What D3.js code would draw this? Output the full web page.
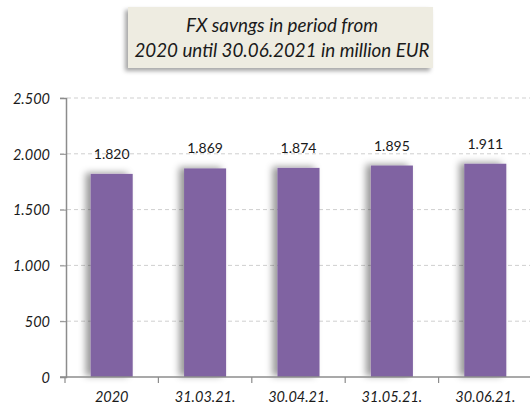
<!DOCTYPE html>
<html><head><meta charset="utf-8">
<script src="https://cdn.jsdelivr.net/npm/d3@7"></script>
<style>body{margin:0;background:#fff}svg{display:block}</style>
</head><body>
<svg id="c" width="530" height="407"></svg>
<script>
const categories = ["2020","31.03.21.","30.04.21.","31.05.21.","30.06.21."];
const values = [1820,1869,1874,1895,1911];
const valueLabels = ["1.820","1.869","1.874","1.895","1.911"];
const yTicks = [0,500,1000,1500,2000,2500];
const yTickLabels = ["0","500","1.000","1.500","2.000","2.500"];
const titleLines = ["FX savngs in period from","2020 until 30.06.2021 in million EUR"];

const svg = d3.select("#c");
const font = "Lato, 'Open Sans', sans-serif";
const defs = svg.append("defs");
const f = defs.append("filter").attr("id","sh").attr("x","-40%").attr("y","-10%").attr("width","180%").attr("height","120%");
f.append("feDropShadow").attr("dx",-5).attr("dy",-1).attr("stdDeviation",3.5).attr("flood-color","#000").attr("flood-opacity",0.4);
const f2 = defs.append("filter").attr("id","tsh").attr("x","-10%").attr("y","-20%").attr("width","120%").attr("height","150%");
f2.append("feDropShadow").attr("dx",-3).attr("dy",3).attr("stdDeviation",2).attr("flood-color","#000").attr("flood-opacity",0.35);

// title box
svg.append("rect").attr("x",128).attr("y",7).attr("width",305).attr("height",61)
  .attr("fill","#EEECE1").attr("filter","url(#tsh)");
svg.selectAll("text.title").data(titleLines).join("text").attr("class","title")
  .attr("x",282).attr("y",(d,i)=>32+i*25).attr("text-anchor","middle")
  .attr("font-family",font).attr("font-style","italic").attr("font-size",18.8).attr("fill","#1a1a1a")
  .text(d=>d);

const x = d3.scaleBand().domain(categories).range([65,532]).paddingInner(0.55).paddingOuter(0.275);
const y = d3.scaleLinear().domain([0,2500]).range([377,98]);

// gridlines
svg.selectAll("line.grid").data(yTicks.slice(1)).join("line").attr("class","grid")
  .attr("x1",60).attr("x2",530).attr("y1",d=>y(d)).attr("y2",d=>y(d))
  .attr("stroke","#cfcfcf").attr("stroke-dasharray","4,3").attr("stroke-width",1);

// bars
svg.selectAll("rect.bar").data(values).join("rect").attr("class","bar")
  .attr("x",(d,i)=>x(categories[i])).attr("width",x.bandwidth())
  .attr("y",d=>y(d)).attr("height",d=>y(0)-y(d))
  .attr("fill","#8064A2").attr("filter","url(#sh)");

// value labels
svg.selectAll("text.val").data(values).join("text").attr("class","val")
  .attr("x",(d,i)=>x(categories[i])+x.bandwidth()/2).attr("y",d=>y(d)-15)
  .attr("text-anchor","middle").attr("font-family",font).attr("font-size",14).attr("fill","#1a1a1a")
  .text((d,i)=>valueLabels[i]);

// y axis
const yAxis = d3.axisLeft(y).tickValues(yTicks).tickFormat((d,i)=>yTickLabels[i]).tickSize(6).tickPadding(10);
const gy = svg.append("g").attr("transform","translate(66,0)").call(yAxis);
gy.attr("font-family",null).attr("font-size",null);
gy.select(".domain").attr("stroke","#8c8c8c").attr("stroke-width",1.5);
gy.selectAll(".tick line").attr("stroke","#8c8c8c");
gy.selectAll("text").attr("dy","0.36em").style("font-family",font).style("font-style","italic").style("font-size","14.5px").attr("fill","#1a1a1a");

// x axis
const xAxis = d3.axisBottom(x).tickSize(0).tickPadding(0);
const gx = svg.append("g").attr("transform","translate(0,377)").call(xAxis);
gx.attr("font-family",null).attr("font-size",null);
gx.select(".domain").attr("stroke","#8c8c8c").attr("stroke-width",1.5).attr("d","M60,0H530");
gx.selectAll("text").attr("y",25).attr("dy",0).style("font-family",font).style("font-style","italic").style("font-size","14.5px").attr("fill","#1a1a1a");
// category boundary ticks
svg.selectAll("line.xt").data(categories).join("line").attr("class","xt")
  .attr("x1",(d)=>x(d)-(x.step()-x.bandwidth())/2).attr("x2",(d)=>x(d)-(x.step()-x.bandwidth())/2)
  .attr("y1",377).attr("y2",383).attr("stroke","#8c8c8c").attr("stroke-width",1.2);
</script>
</body></html>
